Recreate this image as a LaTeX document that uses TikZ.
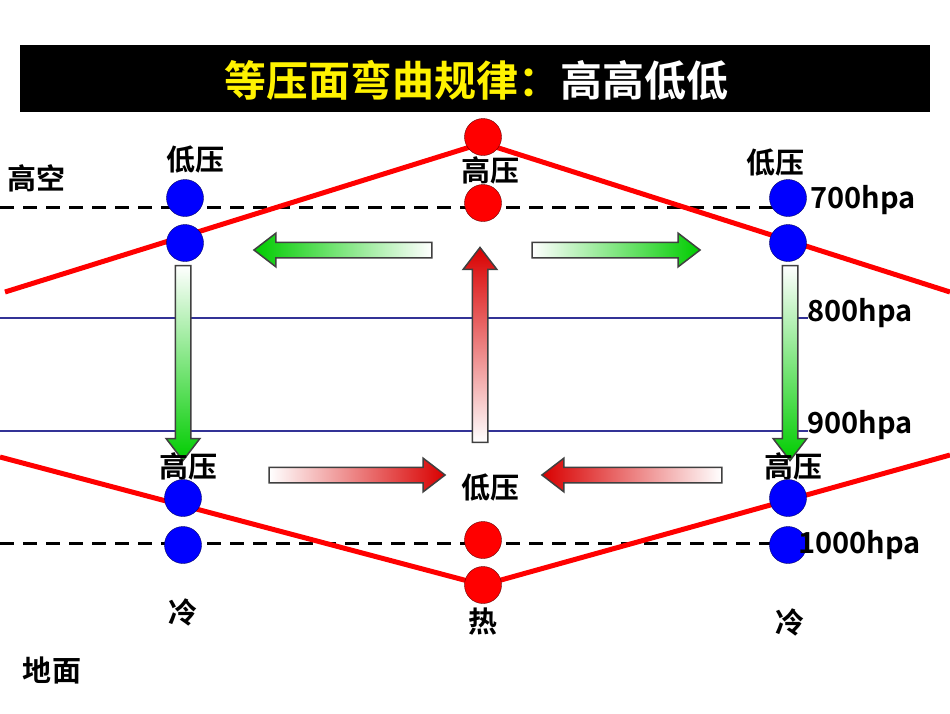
\documentclass[tikz,border=0pt]{standalone}
\usepackage{fontspec}
\setmainfont{Noto Sans CJK SC}[BoldFont={Noto Sans CJK SC Bold}]
\usetikzlibrary{shapes.arrows}
\begin{document}
\begin{tikzpicture}[x=1pt,y=-1pt,
  bdot/.style={circle,fill=blue,draw=blue!40!black,minimum size=37pt,inner sep=0pt},
  rdot/.style={circle,fill=red,draw=red!40!black,minimum size=37pt,inner sep=0pt},
  lbl/.style={font=\bfseries\fontsize{29}{31}\selectfont,inner sep=0pt},
  hpa/.style={font=\bfseries\fontsize{29}{31}\selectfont,inner sep=0pt,anchor=west},
  barrow/.style={single arrow,draw=black!75,line width=1.5pt,text width=0pt,text height=0pt,text depth=0pt,single arrow head extend=9pt,single arrow head indent=0pt,single arrow tip angle=75},
  harrow/.style={barrow,inner xsep=0pt,inner ysep=7pt},
  varrow/.style={barrow,inner xsep=7pt,inner ysep=0pt},
  dashl/.style={line width=3pt,dash pattern=on 14pt off 9pt},
  isob/.style={draw={rgb,255:red,50;green,50;blue,150},line width=2.5pt},
  redl/.style={red,line width=5pt}]
\useasboundingbox[fill=white] (0,0) rectangle (950,713);
\node[fill=black,minimum width=910pt,minimum height=67pt,anchor=north west] (title) at (20,45) {};
\node[font=\bfseries\fontsize{42}{44}\selectfont] (tt) at (476,80) {\textcolor{yellow}{等压面弯曲规律：}\textcolor{white}{高高低低}};
% lines
\coordinate (d1a) at (0,207); \coordinate (d1b) at (800,207);
\coordinate (d2a) at (0,543); \coordinate (d2b) at (800,543);
\draw[dashl] (d1a) -- (d1b);
\draw[dashl] (d2a) -- (d2b);
\coordinate (b1a) at (0,318); \coordinate (b1b) at (808,318);
\coordinate (b2a) at (0,431); \coordinate (b2b) at (808,431);
\draw[isob] (b1a) -- (b1b);
\draw[isob] (b2a) -- (b2b);
\coordinate (u1) at (5,292); \coordinate (u2) at (483,143); \coordinate (u3) at (950,292);
\coordinate (l1) at (0,457); \coordinate (l2) at (483,585); \coordinate (l3) at (950,455);
\draw[redl] (u1) -- (u2) -- (u3);
\draw[redl] (l1) -- (l2) -- (l3);
% arrows
\node[harrow,minimum height=178pt,shape border rotate=180,left color=green!80!black,right color=white] (a1) at (348,250) {};
\node[harrow,minimum height=168pt,left color=white,right color=green!80!black] (a2) at (611,250) {};
\node[varrow,minimum height=195pt,shape border rotate=270,top color=white,bottom color=green!80!black] (a3) at (183,358) {};
\node[varrow,minimum height=195pt,shape border rotate=270,top color=white,bottom color=green!80!black] (a4) at (790,358) {};
\node[varrow,minimum height=195pt,shape border rotate=90,top color=red!85!black,bottom color=white] (a5) at (480,350) {};
\node[harrow,minimum height=176pt,left color=white,right color=red!85!black] (a6) at (352,475) {};
\node[harrow,minimum height=180pt,shape border rotate=180,left color=red!85!black,right color=white] (a7) at (637,475) {};
% dots
\node[bdot] (p1) at (185,198) {}; \node[bdot] (p2) at (185,243) {};
\node[bdot] (p3) at (788,198) {}; \node[bdot] (p4) at (788,243) {};
\node[bdot] (p5) at (183,498) {}; \node[bdot] (p6) at (183,545) {};
\node[bdot] (p7) at (788,498) {}; \node[bdot] (p8) at (788,545) {};
\node[rdot] (r1) at (483,137) {}; \node[rdot] (r2) at (483,203) {};
\node[rdot] (r3) at (483,540) {}; \node[rdot] (r4) at (483,585) {};
% labels
\node[lbl] (t1) at (195,160) {低压};
\node[lbl] (t2) at (490,170) {高压};
\node[lbl] (t3) at (775,163) {低压};
\node[lbl] (t4) at (36,178) {高空};
\node[lbl] (t5) at (188,466) {高压};
\node[lbl] (t6) at (490,488) {低压};
\node[lbl] (t7) at (793,466) {高压};
\node[lbl] (t8) at (183,612) {冷};
\node[lbl] (t9) at (483,622) {热};
\node[lbl] (t10) at (790,622) {冷};
\node[lbl] (t11) at (52,670) {地面};
\node[hpa] (h1) at (810,200) {700hpa};
\node[hpa] (h2) at (807,313) {800hpa};
\node[hpa] (h3) at (807,425) {900hpa};
\node[hpa] (h4) at (798,545) {1000hpa};
\end{tikzpicture}
\end{document}
